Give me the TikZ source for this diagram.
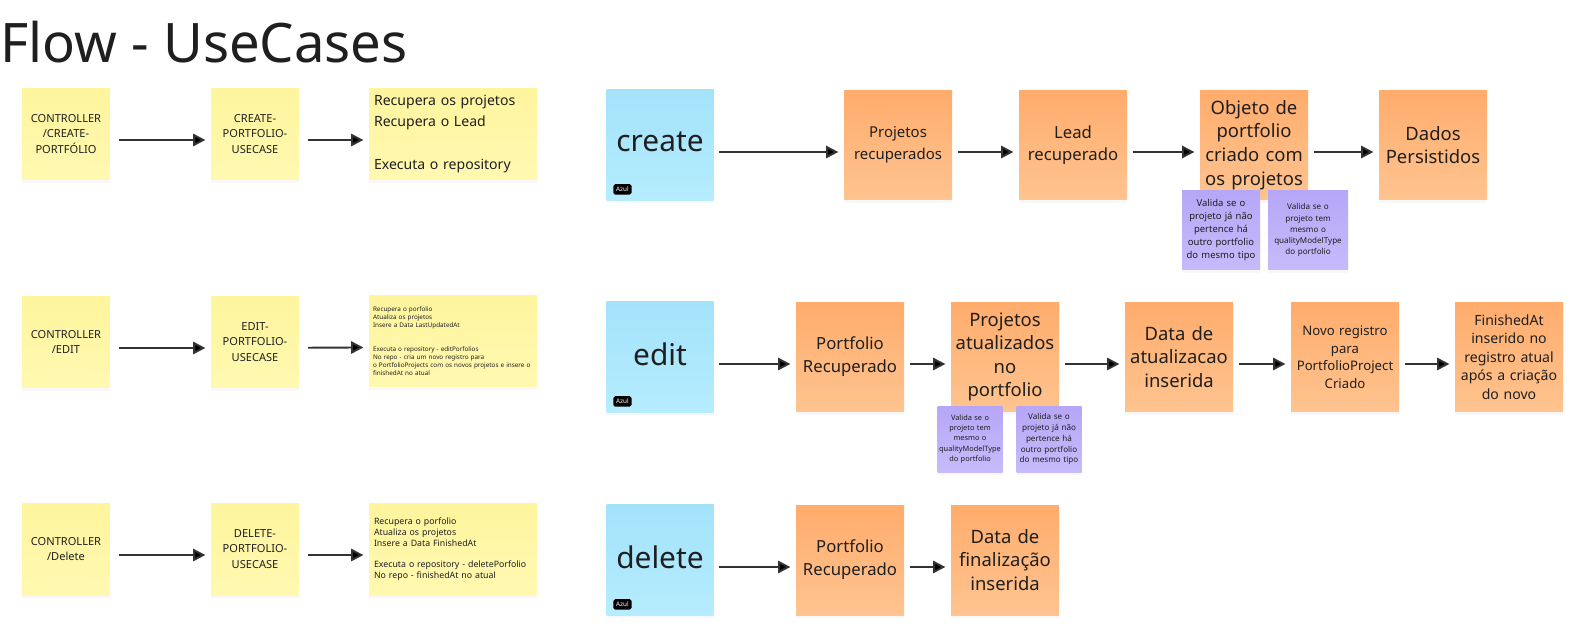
\documentclass[tikz,border=0pt]{standalone}
\usepackage{fontspec}
\setmainfont{Noto Sans}
\usepackage{tikz}
\usetikzlibrary{arrows.meta, shadows}

\definecolor{noteyellow}{HTML}{FFF59E}
\definecolor{noteyellowb}{HTML}{FFF8B0}
\definecolor{noteorange}{HTML}{FFAC6C}
\definecolor{noteorangeb}{HTML}{FFC490}
\definecolor{noteblue}{HTML}{A3E3FA}
\definecolor{notebluelow}{HTML}{B6ECFE}
\definecolor{notepurple}{HTML}{B6A6F7}
\definecolor{notepurpleb}{HTML}{C7BBFB}
\definecolor{arrowgray}{HTML}{333333}
\definecolor{inkgray}{HTML}{1F1F1F}

\newcommand{\fs}[2]{\fontsize{#1}{#2}\selectfont}

\begin{document}
\begin{tikzpicture}[x=0.02cm, y=-0.02cm, inner sep=0pt, text=inkgray,
	sticky/.style={drop shadow={opacity=0.05, shadow xshift=0pt, shadow yshift=-1.5pt}, align=center},
	yellownote/.style={sticky, top color=noteyellow, bottom color=noteyellowb, minimum width=1.76cm, minimum height=1.84cm, text width=1.6cm, font=\fs{6.3}{9}},
	textnote/.style={sticky, top color=noteyellow, bottom color=noteyellowb, minimum width=3.36cm, minimum height=1.84cm, text width=3.16cm, align=left},
	bluenote/.style={sticky, top color=noteblue, bottom color=notebluelow, minimum width=2.14cm, minimum height=2.22cm, font=\fs{17}{19}},
	orangenote/.style={sticky, top color=noteorange, bottom color=noteorangeb, minimum width=2.16cm, minimum height=2.2cm, text width=2cm},
	purplenote/.style={sticky, top color=notepurple, bottom color=notepurpleb, text width=1.4cm},
	tag/.style={fill=black, rounded corners=1pt, text=white, font=\bfseries\fs{3.6}{3.6}, inner xsep=1.6pt, inner ysep=1.6pt},
	flow/.style={-{Triangle[length=7pt, width=7pt]}, draw=arrowgray, line width=1.1pt}]

	\fill[white] (0,0) rectangle (1571,636);

	\node[anchor=base west, font=\fs{31}{34}] (title) at (0,62) {Flow - UseCases};

	% create
	\node[yellownote] (c1) at (66,134) {CONTROLLER\\/CREATE-\\PORTFÓLIO};
	\node[yellownote] (c2) at (255,134) {CREATE-\\PORTFOLIO-\\USECASE};
	\node[textnote, font=\fs{8}{12}] (c3) at (453,134) {Recupera os projetos\\Recupera o Lead\\[12pt]Executa o repository};

	\node[bluenote] (create) at (660,145) {\raisebox{4pt}{create}};
	\node[tag, anchor=south west] (azul1) at (613,195) {Azul};
	\node[orangenote, font=\fs{8.5}{12.5}] (p1) at (898,145) {Projetos\\recuperados};
	\node[orangenote, font=\fs{9.5}{12.5}] (p2) at (1073,145) {Lead\\recuperado};
	\node[orangenote, font=\fs{10.5}{13.5}] (p3) at (1254,145) {Objeto de\\portfolio\\criado com\\os projetos};
	\node[orangenote, font=\fs{10.5}{13.5}] (p4) at (1433,145) {Dados\\Persistidos};

	\node[purplenote, minimum width=1.56cm, minimum height=1.6cm, font=\fs{5.4}{7.4}] (v1) at (1221,230) {Valida se o\\projeto já não\\pertence há\\outro portfolio\\do mesmo tipo};
	\node[purplenote, minimum width=1.6cm, minimum height=1.6cm, font=\fs{4.6}{6.3}] (v2) at (1308,230) {Valida se o\\projeto tem\\mesmo o\\qualityModelType\\do portfolio};

	% edit
	\node[yellownote] (e1) at (66,342) {CONTROLLER\\/EDIT};
	\node[yellownote] (e2) at (255,342) {EDIT-\\PORTFOLIO-\\USECASE};
	\node[textnote, text width=3.2cm, font=\fs{3.6}{4.6}] (e3) at (453,341) {Recupera o porfolio\\Atualiza os projetos\\Insere a Data LastUpdatedAt\\[9pt]Executa o repository - editPorfolios\\No repo - cria um novo registro para\\\mbox{o PortfolioProjects com os novos projetos e insere o}\\finishedAt no atual};

	\node[bluenote] (edit) at (660,357) {\raisebox{3pt}{edit}};
	\node[tag, anchor=south west] (azul2) at (613,407) {Azul};
	\node[orangenote, font=\fs{9.5}{13}] (q1) at (850,357) {Portfolio\\Recuperado};
	\node[orangenote, font=\fs{10.5}{13.2}] (q2) at (1005,357) {Projetos\\atualizados\\no\\portfolio};
	\node[orangenote, font=\fs{10.5}{13.2}] (q3) at (1179,357) {Data de\\atualizacao\\inserida};
	\node[orangenote, font=\fs{7.5}{10}] (q4) at (1345,357) {Novo registro\\para\\PortfolioProject\\Criado};
	\node[orangenote, font=\fs{8}{10.5}] (q5) at (1509,357) {FinishedAt\\inserido no\\registro atual\\após a criação\\do novo};

	\node[purplenote, minimum width=1.3cm, minimum height=1.32cm, text width=1.26cm, font=\fs{4.2}{5.8}] (w1) at (970,439) {Valida se o\\projeto tem\\mesmo o\\qualityModelType\\do portfolio};
	\node[purplenote, minimum width=1.3cm, minimum height=1.32cm, text width=1.26cm, font=\fs{4.6}{6.2}] (w2) at (1049,439) {Valida se o\\projeto já não\\pertence há\\outro portfolio\\do mesmo tipo};

	% delete
	\node[yellownote] (d1) at (66,549) {CONTROLLER\\/Delete};
	\node[yellownote] (d2) at (255,549) {DELETE-\\PORTFOLIO-\\USECASE};
	\node[textnote, font=\fs{5}{6.2}] (d3) at (453,549) {Recupera o porfolio\\Atualiza os projetos\\Insere a Data FinishedAt\\[6pt]Executa o repository - deletePorfolio\\No repo - finishedAt no atual};

	\node[bluenote] (delete) at (660,560) {\raisebox{3pt}{delete}};
	\node[tag, anchor=south west] (azul3) at (613,610) {Azul};
	\node[orangenote, font=\fs{9.5}{13}] (r1) at (850,560) {Portfolio\\Recuperado};
	\node[orangenote, font=\fs{10.5}{13.2}] (r2) at (1005,560) {Data de\\finalização\\inserida};

	\begin{scope}[transform canvas={yshift=-0.12cm}]
	\path[flow, shorten <=5pt, shorten >=3pt]
		(c1) edge (c2)
		(c2) edge (c3)
		(e1) edge (e2)
		(e2) edge (e3)
		(d1) edge (d2)
		(d2) edge (d3);
	\end{scope}

	\begin{scope}[transform canvas={yshift=-0.14cm}]
	\path[flow, shorten <=3pt, shorten >=3pt]
		(create) edge (p1)
		(p1) edge (p2)
		(p2) edge (p3)
		(p3) edge (p4)
		(edit) edge (q1)
		(q1) edge (q2)
		(q2) edge (q3)
		(q3) edge (q4)
		(q4) edge (q5)
		(delete) edge (r1)
		(r1) edge (r2);
	\end{scope}
\end{tikzpicture}
\end{document}
